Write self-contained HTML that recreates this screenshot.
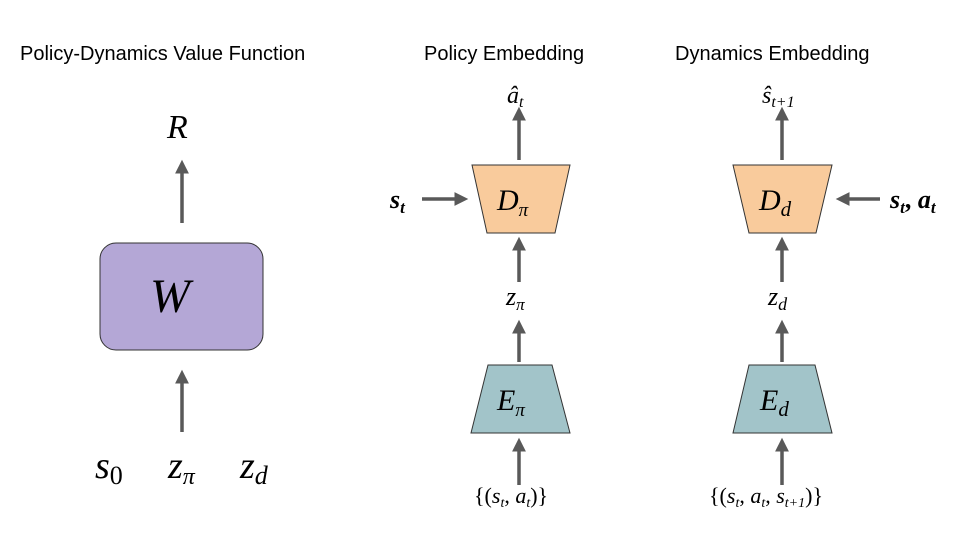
<!DOCTYPE html>
<html><head><meta charset="utf-8"><style>
html,body{margin:0;padding:0;background:#fff;}
svg{display:block;}
.t{font-family:"Liberation Sans",sans-serif;font-size:20px;fill:#000;}
.m{font-family:"Liberation Serif",serif;font-style:italic;fill:#000;}
</style></head><body>
<svg width="960" height="540" viewBox="0 0 960 540" xmlns="http://www.w3.org/2000/svg">
<defs>
<marker id="a" markerWidth="4" markerHeight="4" refX="2.2" refY="2" orient="auto" markerUnits="strokeWidth">
<path d="M0,0 L4,2 L0,4 z" fill="#595959"/></marker>
</defs>
<text class="t" x="20" y="60">Policy-Dynamics Value Function</text>
<text class="t" x="424" y="60">Policy Embedding</text>
<text class="t" x="675" y="60">Dynamics Embedding</text>

<g stroke="#595959" stroke-width="3.5" fill="none" marker-end="url(#a)">
<line x1="182" y1="223" x2="182" y2="166"/>
<line x1="182" y1="432" x2="182" y2="376"/>
<line x1="519" y1="160" x2="519" y2="113"/>
<line x1="422" y1="199" x2="462" y2="199"/>
<line x1="519" y1="282" x2="519" y2="243"/>
<line x1="519" y1="362" x2="519" y2="326"/>
<line x1="519" y1="485" x2="519" y2="444"/>
<line x1="782" y1="160" x2="782" y2="113"/>
<line x1="880" y1="199" x2="842" y2="199"/>
<line x1="782" y1="282" x2="782" y2="243"/>
<line x1="782" y1="362" x2="782" y2="326"/>
<line x1="782" y1="485" x2="782" y2="444"/>
</g>

<rect x="100" y="243" width="163" height="107" rx="16" fill="#b4a7d6" stroke="#333" stroke-width="1"/>
<polygon points="472,165 570,165 555,233 487,233" fill="#f9cb9c" stroke="#333" stroke-width="1"/>
<polygon points="488,365 552,365 570,433 471,433" fill="#a2c4c9" stroke="#333" stroke-width="1"/>
<polygon points="733,165 832,165 816,233 749,233" fill="#f9cb9c" stroke="#333" stroke-width="1"/>
<polygon points="749,365 815,365 832,433 733,433" fill="#a2c4c9" stroke="#333" stroke-width="1"/>

<text class="m" x="167" y="138" font-size="34">R</text>
<text class="m" x="150" y="312" font-size="48">W</text>
<text class="m" x="95" y="478" font-size="38">s<tspan font-size="26" font-style="normal" dy="6">0</tspan></text>
<text class="m" x="168" y="478" font-size="38">z<tspan font-size="24" dy="6">π</tspan></text>
<text class="m" x="240" y="478" font-size="38">z<tspan font-size="26" dy="6">d</tspan></text>

<text class="m" x="507" y="103" font-size="24">â<tspan font-size="16" dy="4">t</tspan></text>
<text class="m" x="390" y="208" font-size="26" font-weight="bold">s<tspan font-size="17" dy="5">t</tspan></text>
<text class="m" x="497" y="210" font-size="30">D<tspan font-size="19" dy="6">π</tspan></text>
<text class="m" x="506" y="305" font-size="26">z<tspan font-size="17" dy="5">π</tspan></text>
<text class="m" x="497" y="410" font-size="30">E<tspan font-size="19" dy="6">π</tspan></text>
<text class="m" x="474" y="503" font-size="22"><tspan font-style="normal">{(</tspan>s<tspan font-size="14" dy="4">t</tspan><tspan dy="-4" font-style="normal">, </tspan>a<tspan font-size="14" dy="4">t</tspan><tspan dy="-4" font-style="normal">)}</tspan></text>

<text class="m" x="762" y="103" font-size="24">ŝ<tspan font-size="16" dy="4">t+1</tspan></text>
<text class="m" x="890" y="208" font-size="26" font-weight="bold">s<tspan font-size="17" dy="5">t</tspan><tspan dy="-5" font-style="normal">, </tspan>a<tspan font-size="17" dy="5">t</tspan></text>
<text class="m" x="759" y="210" font-size="30">D<tspan font-size="21" dy="6">d</tspan></text>
<text class="m" x="768" y="305" font-size="26">z<tspan font-size="18" dy="5">d</tspan></text>
<text class="m" x="760" y="410" font-size="30">E<tspan font-size="21" dy="6">d</tspan></text>
<text class="m" x="709" y="503" font-size="22"><tspan font-style="normal">{(</tspan>s<tspan font-size="14" dy="4">t</tspan><tspan dy="-4" font-style="normal">, </tspan>a<tspan font-size="14" dy="4">t</tspan><tspan dy="-4" font-style="normal">, </tspan>s<tspan font-size="14" dy="4">t+1</tspan><tspan dy="-4" font-style="normal">)}</tspan></text>
</svg>
</body></html>
